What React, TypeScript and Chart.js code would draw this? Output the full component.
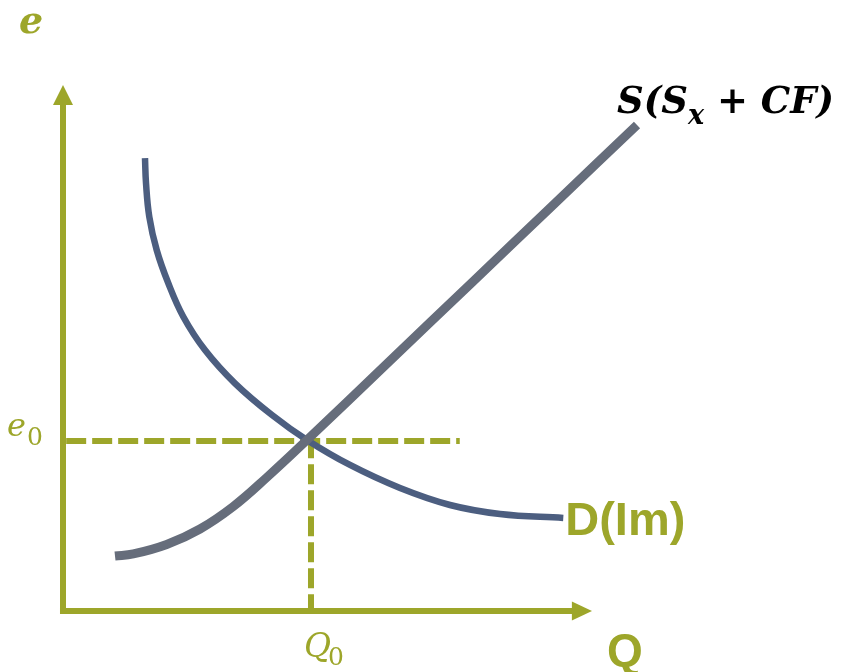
import React, { useEffect, useRef } from "react";
import { Chart, registerables } from "chart.js";

Chart.register(...registerables);

// Demand curve D(Im): quantity (Q) and exchange rate (e)
const demandQ = [15.5, 15.69, 16.31, 17.71, 19.91, 22.74, 26.84, 32.51, 39.51, 46.12, 54.25, 63.71, 73.16, 82.61, 94.57];
const demandE = [86.12, 81.37, 74.97, 68.63, 62.3, 55.95, 49.62, 43.29, 37.26, 32.51, 27.76, 23.38, 20.15, 18.44, 17.68];

// Supply curve S(Sx + CF)
const supplyQ = [9.83, 13.29, 19.6, 25.9, 32.19, 38.51, 46.12, 61.72, 77.32, 92.91, 108.51];
const supplyE = [10.46, 10.84, 12.64, 15.59, 19.87, 25.38, 32.51, 47.49, 62.46, 77.43, 92.4];

// Equilibrium
const eqQ = 46.88;
const eqE = 32.32;
const dashEndQ = 75.0;

// Axes (arrow tips at 100)
const axisTip = 100;
const axisStart = -0.57;
const arrowBase = 96.2;

const GREEN = "#9da62a";
const DEMAND = "#4c5e80";
const SUPPLY = "#666d7b";

const pts = (xs: number[], ys: number[]) => xs.map((x, i) => ({ x, y: ys[i] }));

const overlayPlugin = {
  id: "overlay",
  afterDatasetsDraw(chart: any) {
    const ctx = chart.ctx as CanvasRenderingContext2D;
    const xs = chart.scales.x;
    const ys = chart.scales.y;
    const ox = xs.getPixelForValue(0);
    const oy = ys.getPixelForValue(0);
    ctx.save();
    ctx.fillStyle = GREEN;
    // arrow heads
    const ty = ys.getPixelForValue(axisTip);
    const by = ys.getPixelForValue(arrowBase);
    ctx.beginPath();
    ctx.moveTo(ox, ty);
    ctx.lineTo(ox - 10, by);
    ctx.lineTo(ox + 10, by);
    ctx.closePath();
    ctx.fill();
    const tx = xs.getPixelForValue(axisTip);
    const bx = xs.getPixelForValue(arrowBase);
    ctx.beginPath();
    ctx.moveTo(tx, oy);
    ctx.lineTo(bx, oy - 9.5);
    ctx.lineTo(bx, oy + 9.5);
    ctx.closePath();
    ctx.fill();

    ctx.textBaseline = "alphabetic";
    ctx.textAlign = "left";
    // axis label e
    ctx.font = 'italic bold 38px "DejaVu Serif"';
    ctx.fillText("e", 19, 33);
    // e0
    const ey = ys.getPixelForValue(eqE);
    ctx.font = 'italic 32px "DejaVu Serif"';
    ctx.fillText("e", 7, ey - 5);
    ctx.font = '25px "DejaVu Serif"';
    ctx.fillText("0", 27, ey + 4);
    // Q0
    const qx = xs.getPixelForValue(eqQ);
    ctx.font = 'italic 33px "DejaVu Serif"';
    ctx.fillText("Q", qx - 7, 657);
    ctx.font = '25px "DejaVu Serif"';
    ctx.fillText("0", qx + 17, 665);
    // Q axis label
    ctx.font = 'bold 46px "Liberation Sans"';
    ctx.fillText("Q", 607, 666);
    // D(Im)
    const dx = xs.getPixelForValue(demandQ[demandQ.length - 1]);
    const dy = ys.getPixelForValue(demandE[demandE.length - 1]);
    ctx.font = 'bold 47px "Liberation Sans"';
    ctx.fillText("D(Im)", dx + 2, dy + 17);
    // S(Sx + CF)
    let x = 617;
    const base = 113;
    const big = 'italic bold 37px "DejaVu Serif"';
    const sub = 'italic bold 27px "DejaVu Serif"';
    const up = 'bold 37px "DejaVu Serif"';
    ctx.fillStyle = "#000000";
    const seg = (t: string, f: string, dyy: number) => {
      ctx.font = f;
      ctx.fillText(t, x, base + dyy);
      x += ctx.measureText(t).width;
    };
    seg("S(S", big, 0);
    seg("x", sub, 11);
    seg(" + ", up, 0);
    seg("CF)", big, 0);
    ctx.restore();
  },
};

export default function App() {
  const ref = useRef<HTMLCanvasElement | null>(null);
  useEffect(() => {
    if (!ref.current) return;
    const chart = new Chart(ref.current, {
      type: "scatter",
      data: {
        datasets: [
          {
            label: "S",
            data: pts(supplyQ, supplyE),
            showLine: true,
            borderColor: SUPPLY,
            borderWidth: 9,
            pointRadius: 0,
            tension: 0.4,
            order: 1,
          },
          {
            label: "D",
            data: pts(demandQ, demandE),
            showLine: true,
            borderColor: DEMAND,
            borderWidth: 6.5,
            pointRadius: 0,
            tension: 0.4,
            order: 2,
          },
          {
            label: "e0",
            data: [
              { x: 0.6, y: eqE },
              { x: dashEndQ, y: eqE },
            ],
            showLine: true,
            borderColor: GREEN,
            borderWidth: 6,
            borderDash: [20, 6],
            pointRadius: 0,
            order: 3,
          },
          {
            label: "Q0",
            data: [
              { x: eqQ, y: eqE + 0.5 },
              { x: eqQ, y: 0.5 },
            ],
            showLine: true,
            borderColor: GREEN,
            borderWidth: 6,
            borderDash: [20, 6],
            pointRadius: 0,
            order: 3,
          },
          {
            label: "yaxis",
            data: [
              { x: 0, y: axisStart },
              { x: 0, y: arrowBase + 0.5 },
            ],
            showLine: true,
            borderColor: GREEN,
            borderWidth: 6,
            pointRadius: 0,
            order: 4,
          },
          {
            label: "xaxis",
            data: [
              { x: axisStart, y: 0 },
              { x: arrowBase + 0.5, y: 0 },
            ],
            showLine: true,
            borderColor: GREEN,
            borderWidth: 6,
            pointRadius: 0,
            order: 4,
          },
        ],
      },
      options: {
        animation: false,
        responsive: false,
        devicePixelRatio: 1,
        layout: { padding: 0 },
        plugins: { legend: { display: false }, tooltip: { enabled: false } },
        events: [],
        scales: {
          x: { type: "linear", display: false, min: -63 / 5.29, max: (850 - 63) / 5.29 },
          y: { type: "linear", display: false, min: -(672 - 611) / 5.26, max: 611 / 5.26 },
        },
      },
      plugins: [overlayPlugin],
    });
    return () => chart.destroy();
  }, []);
  return (
    <div style={{ position: "fixed", left: 0, top: 0, width: 850, height: 672, background: "#ffffff" }}>
      <canvas ref={ref} width={850} height={672} style={{ width: 850, height: 672, display: "block" }} />
    </div>
  );
}
